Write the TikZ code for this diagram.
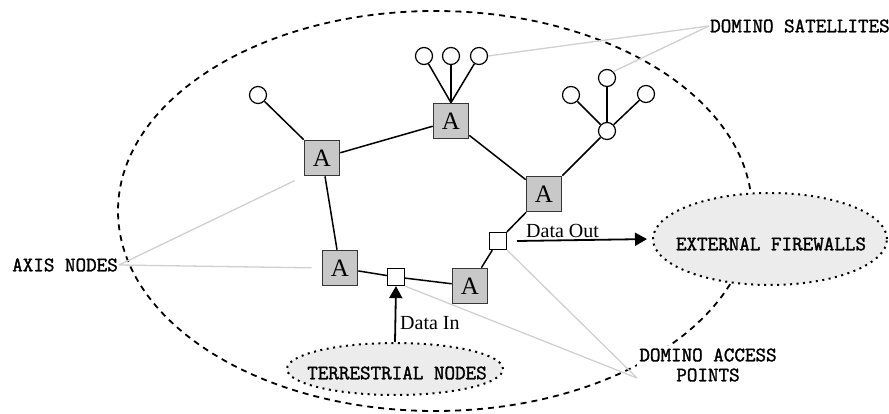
\documentclass[tikz,border=0pt]{standalone}
\usepackage{fontspec}
\setmainfont{Liberation Serif}
\newfontfamily\notefont{Latin Modern Mono}[AutoFakeBold=1.6]
\usetikzlibrary{arrows.meta,shapes.geometric}

\definecolor{boxgray}{RGB}{200,200,200}
\definecolor{edgegray}{RGB}{55,55,55}
\definecolor{notegray}{RGB}{208,208,208}
\definecolor{cloudgray}{RGB}{236,236,236}

\tikzset{
  axisbox/.style={draw=edgegray, line width=1.6pt, fill=boxgray, minimum size=35pt,
    inner sep=0pt, font=\fontsize{25}{25}\selectfont},
  accessbox/.style={draw=black, line width=1.3pt, fill=white, minimum size=17pt, inner sep=0pt},
  sat/.style={circle, draw=black, line width=1.2pt, fill=white, minimum size=17pt, inner sep=0pt},
  link/.style={line width=1.5pt},
  note/.style={notegray, line width=1.3pt},
  caption/.style={font=\notefont\bfseries\fontsize{20.5}{20}\selectfont, inner sep=1pt},
  cloud/.style={ellipse, fill=cloudgray, draw=black, line width=2pt,
    dash pattern=on 2pt off 4.5pt, inner sep=0pt},
  flow/.style={line width=1.8pt, -{Triangle[length=12pt,width=13pt]}},
  datatext/.style={font=\fontsize{20}{20}\selectfont, inner sep=0pt}
}

\begin{document}
\begin{tikzpicture}[x=1pt,y=-1pt]
\useasboundingbox (0,0) rectangle (889,414);
% the big dashed ring
\draw[line width=1.8pt, dash pattern=on 6pt off 5pt] (435,211) ellipse (317pt and 200pt);

% clouds
\node[cloud, minimum width=234pt, minimum height=92pt] (fw) at (770,239) {};
\node[caption] (fwtext) at (771,244) {EXTERNAL FIREWALLS};
\node[cloud, minimum width=216pt, minimum height=52pt] (terr) at (395,369) {};
\node[caption] (terrtext) at (397,373) {TERRESTRIAL NODES};

% labels
\node[caption, anchor=west] (satlbl) at (709,26) {DOMINO SATELLITES};
\node[caption, anchor=east] (axislbl) at (119,265) {AXIS NODES};
\node[caption, align=center, fill=white, inner sep=2pt] (aplbl) at (708,365) {DOMINO ACCESS\\POINTS};
\coordinate (apfoot) at (637,378);

% axis nodes
\node[axisbox] (a1) at (322,158) {A};
\node[axisbox] (a2) at (451,121) {A};
\node[axisbox] (a3) at (544,194) {A};
\node[axisbox] (a4) at (340,268) {A};
\node[axisbox] (a5) at (470,286) {A};

% access points
\node[accessbox] (ap1) at (396,277) {};
\node[accessbox] (ap2) at (498,241) {};

% satellites
\node[sat] (s1) at (258,95) {};
\node[sat] (s2) at (424,56) {};
\node[sat] (s3) at (451,56) {};
\node[sat] (s4) at (479,56) {};
\node[sat] (s5) at (571,95) {};
\node[sat] (s6) at (607,78) {};
\node[sat] (s7) at (646,94) {};
\node[sat] (s8) at (607,131) {};

% grey pointer lines
\draw[note] (satlbl.west) -- (s4.east);
\draw[note] (satlbl.west) -- (s6.north east);
\draw[note, shorten >=10pt] (axislbl.east) -- (a4.west);
\draw[note, shorten >=10pt] (axislbl.east) -- (a1.south west);
\draw[note] (apfoot) -- (ap1.south east);
\draw[note] (apfoot) -- (ap2.south east);

% links
\draw[link] (s1) -- (a1.north west);
\draw[link] (s2) -- (a2.north);
\draw[link] (s3) -- (a2.north);
\draw[link] (s4) -- (a2.north);
\draw[link] (a1) -- (a2);
\draw[link] (a2) -- (a3);
\draw[link] (a3) -- (s8);
\draw[link] (s8) -- (s5);
\draw[link] (s8) -- (s6);
\draw[link] (s8) -- (s7);
\draw[link] (a1) -- (a4);
\draw[link] (a4) -- (ap1);
\draw[link] (ap1) -- (a5);
\draw[link] (a5) -- (ap2);
\draw[link] (ap2) -- (a3);

% data flow
\draw[flow] (terr.north) -- (ap1.south);
\node[datatext, anchor=west] (datain) at (400,323) {Data In};
\coordinate (outstart) at (517,241);
\draw[flow, shorten >=5pt] (outstart) -- (fw.west);
\node[datatext, anchor=west] (dataout) at (526,231) {Data Out};
\end{tikzpicture}
\end{document}
